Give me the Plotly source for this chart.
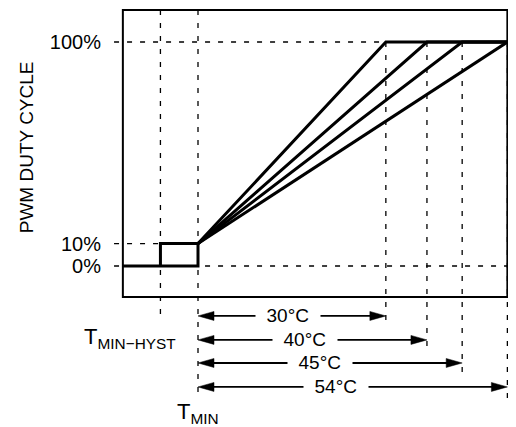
import plotly.graph_objects as go

# duty cycle axis
duty_ticks = [0, 10, 100]
duty_labels = ["0%", "10%", "100%"]
duty_min = 10
duty_max = 100

# temperature axis, T_MIN = 0 (units)
t_min = 0
t_hyst = -6.4
ramp_end = [32, 39, 45, 52.7]
ramp_labels = ["30°C", "40°C", "45°C", "54°C"]

# layout helpers (px per unit on each axis); page body adds an 8px offset
XS, YS = 5.87, 2.24
x_range = [-14.99, 54.17]
y_range = [-71.88, 115.18]
box_x = [-12.8, ramp_end[-1]]
box_y = [-13.8, 114.3]
arrow_y = [-22.3, -33.0, -43.3, -54.0]
label_x = [15.3, 18.2, 20.8, 23.5]
dash_left = -14.3

FONT = "Liberation Sans, Arial, sans-serif"

fig = go.Figure()
dash = dict(color="black", width=1.3, dash="5px,8px")
thick = dict(color="black", width=3)


def seg(x, y, line, **kw):
    fig.add_trace(go.Scatter(x=x, y=y, mode="lines", line=line,
                             hoverinfo="skip", showlegend=False, **kw))


# dashed guides
seg([dash_left, ramp_end[-1]], [duty_max, duty_max], dash)
seg([dash_left, t_hyst], [duty_min, duty_min], dash)
seg([dash_left, ramp_end[-1]], [0, 0], dash)
seg([t_hyst, t_hyst], [box_y[1], -21.9], dash)
seg([t_min, t_min], [box_y[1], -59.8], dash)
for e, ay in zip(ramp_end, arrow_y):
    seg([e, e], [duty_max, ay - 5], dash)

# hysteresis step and ramps
seg([box_x[0], t_min, t_min, t_hyst, t_hyst], [0, 0, duty_min, duty_min, 0], thick)
for e in ramp_end:
    seg([t_min, e, ramp_end[-1]], [duty_min, duty_max, duty_max], thick)

# dimension arrows
head_len = 16 / XS
head_half = 4.5 / YS
for e, ay, lx, lab in zip(ramp_end, arrow_y, label_x, ramp_labels):
    seg([t_min + head_len * 0.8, e - head_len * 0.8], [ay, ay],
        dict(color="black", width=1.8))
    seg([t_min, t_min + head_len, t_min + head_len, t_min],
        [ay, ay + head_half, ay - head_half, ay],
        dict(color="black", width=0.5), fill="toself", fillcolor="black")
    seg([e, e - head_len, e - head_len, e],
        [ay, ay + head_half, ay - head_half, ay],
        dict(color="black", width=0.5), fill="toself", fillcolor="black")
    fig.add_annotation(x=lx, y=ay, text="\u00a0\u00a0" + lab + "\u00a0\u00a0",
                       showarrow=False, bgcolor="white", borderpad=0,
                       font=dict(size=19, color="black", family=FONT))

# T labels
fig.add_annotation(x=-3.4, y=-32.1, xanchor="right",
                   text="T<sub>MIN\u2212HYST</sub>", showarrow=False,
                   font=dict(size=22, color="black", family=FONT))
fig.add_annotation(x=t_min, y=-65.6, text="T<sub>MIN</sub>", showarrow=False,
                   font=dict(size=22, color="black", family=FONT))
fig.add_annotation(xref="paper", x=-0.207, xanchor="center", y=53,
                   text="PWM DUTY CYCLE", textangle=-90, showarrow=False,
                   font=dict(size=19, color="black", family=FONT))

fig.add_shape(type="rect", x0=box_x[0], x1=box_x[1], y0=box_y[0], y1=box_y[1],
              line=dict(color="black", width=2))

fig.update_layout(
    width=508, height=419,
    margin=dict(l=102, r=0, t=0, b=0),
    plot_bgcolor="white", paper_bgcolor="white",
    font=dict(family=FONT, size=20, color="black"),
    xaxis=dict(range=x_range, visible=False, fixedrange=True),
    yaxis=dict(range=y_range, tickvals=duty_ticks, ticktext=duty_labels,
               showgrid=False, zeroline=False, showline=False, ticks="",
               ticklabelstandoff=8, automargin=False, fixedrange=True),
)

fig.write_html("out.html")
